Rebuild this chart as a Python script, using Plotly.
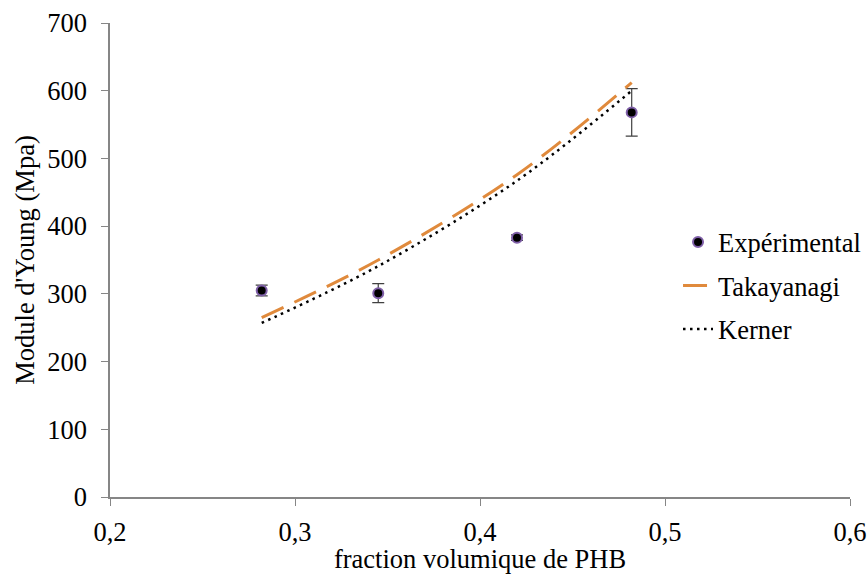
import plotly.graph_objects as go

x_exp = [0.282, 0.345, 0.420, 0.482]
y_exp = [305, 301, 383, 568]
err_exp = [8, 14, 4, 35]

x_model = [0.282, 0.345, 0.420, 0.482]
y_takayanagi = [265, 350, 476, 612]
y_kerner = [257, 341, 467, 600]

x_ticks = [0.2, 0.3, 0.4, 0.5, 0.6]
y_ticks = [0, 100, 200, 300, 400, 500, 600, 700]

font = "Liberation Serif, Times New Roman, serif"
fs = 26.5

fig = go.Figure()
fig.add_trace(go.Scatter(
    x=x_exp, y=y_exp, mode="markers", name="Expérimental", legendgroup="a",
    marker=dict(color="black", size=10, line=dict(color="#7f5fa8", width=2)),
    error_y=dict(type="data", array=err_exp, visible=True, color="#404040",
                 thickness=1.2, width=6),
))
fig.add_trace(go.Scatter(
    x=x_model, y=y_takayanagi, mode="lines", name="Takayanagi", legendgroup="b",
    line=dict(color="#e08a3c", width=3, dash="24px,12px", shape="spline"),
))
fig.add_trace(go.Scatter(
    x=x_model, y=y_kerner, mode="lines", name="Kerner", legendgroup="c",
    line=dict(color="black", width=2.5, dash="2.5px,4.5px", shape="spline"),
))

axis_common = dict(
    showgrid=False, zeroline=False, showline=True, linecolor="#868686",
    linewidth=1.5, ticks="outside", tickcolor="#868686", ticklen=7,
    tickfont=dict(family=font, size=fs, color="black"),
    automargin=False,
)

fig.update_layout(
    width=867, height=574,
    paper_bgcolor="white", plot_bgcolor="white",
    separators=", ",
    margin=dict(l=110, r=17, t=23, b=77, autoexpand=False),
    font=dict(family=font, size=fs, color="black"),
    xaxis=dict(range=[0.2, 0.6], tickvals=x_ticks, tickformat=".1f",
               ticklabelstandoff=3,
               title=dict(text="fraction volumique de PHB", font=dict(family=font, size=fs), standoff=4),
               **axis_common),
    yaxis=dict(range=[0, 700], tickvals=y_ticks, ticklabelstandoff=9,
               title=dict(text="Module d'Young (Mpa)", font=dict(family=font, size=fs), standoff=5),
               **axis_common),
    legend=dict(x=0.7676, y=0.588, xanchor="left", yanchor="top",
                bgcolor="rgba(0,0,0,0)", font=dict(family=font, size=fs),
                traceorder="grouped", tracegroupgap=6),
    showlegend=True,
)

fig.write_html(
    "out.html",
    config={"displayModeBar": False},
    post_script="document.body.style.margin='0';document.body.style.overflow='hidden';",
)
